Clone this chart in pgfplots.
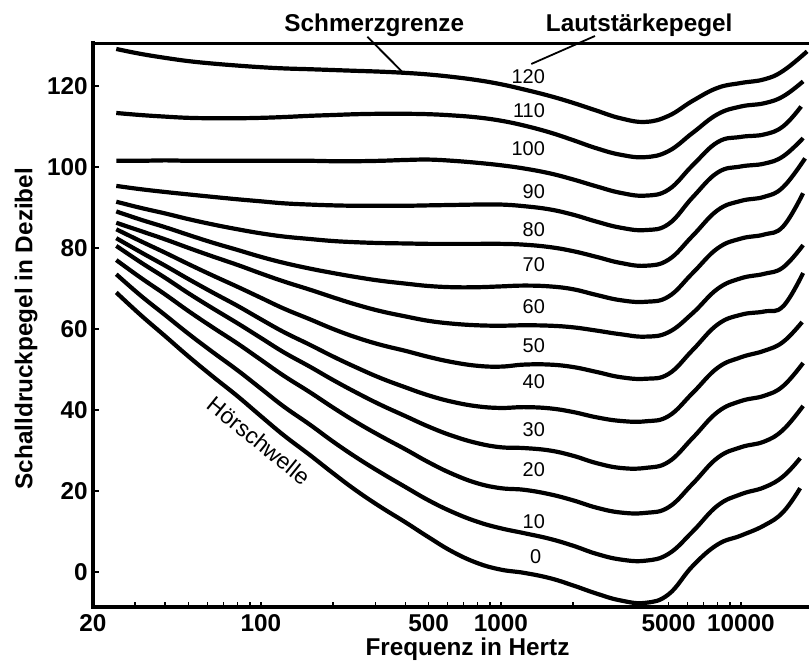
\documentclass[border=0pt]{standalone}
\usepackage{pgfplots}
\pgfplotsset{compat=1.18}
\usepackage{fontspec}
\setmainfont{Liberation Sans}

\pgfplotsset{
  contour/.style={black, line width=2.1bp, smooth, tension=0.7, no marks},
}
\tikzset{
  phon/.style={anchor=east, inner sep=0pt, font=\fontsize{10}{12}\selectfont},
}

\begin{document}
\begin{tikzpicture}
\begin{axis}[
  at={(0bp,0bp)}, anchor=south west,
  scale only axis,
  width=358bp, height=282bp,
  xmode=log,
  xmin=20, xmax=19230,
  ymin=-8.7, ymax=130.5,
  axis x line*=bottom,
  axis y line*=left,
  axis line style={-, line width=2bp, line cap=rect},
  every outer x axis line/.append style={-},
  every outer y axis line/.append style={-},
  tick align=inside,
  major tick length=2.8bp,
  minor tick length=2.8bp,
  every tick/.style={black, line width=0.8bp},
  xtick={20,100,500,1000,5000,10000},
  xticklabels={20,100,500,1000,5000,10000},
  minor xtick={30,40,50,60,70,80,90,200,300,400,600,700,800,900,2000,6000,7000,8000,9000},
  ytick={0,20,40,60,80,100,120},
  yticklabels={0,20,40,60,80,100,120},
  tick label style={font=\fontsize{12.2}{14}\selectfont\bfseries},
  yticklabel style={inner sep=2.5bp},
  xlabel={Frequenz in Hertz},
  ylabel={Schalldruckpegel in Dezibel},
  label style={font=\fontsize{12.2}{14}\selectfont\bfseries},
  xlabel style={at={(axis description cs:0.523,-0.0855)}, anchor=base},
  ylabel style={at={(axis description cs:-0.0845,0.494)}, anchor=base},
  clip=false,
]
% top frame line (the original shows no right spine)
\draw[line width=1.5bp, line cap=rect] (rel axis cs:0,1) -- (rel axis cs:1,1);

% equal-loudness contours, third-octave frequencies
% 120 phon (Schmerzgrenze)
\addplot[contour] coordinates {(25,129.1) (31.5,127.9) (40,126.9) (50,126.1) (63,125.5) (80,125.0) (100,124.6) (125,124.3) (160,124.1) (200,123.9) (250,123.7) (315,123.5) (400,123.2) (500,122.8) (630,122.2) (800,121.4) (1000,120.4) (1250,119.1) (1600,117.5) (2000,115.8) (2500,113.9) (3150,112.0) (4000,111.1) (5000,112.6) (6300,116.3) (8000,119.5) (10000,120.7) (12500,121.6) (15000,123.7) (18880,128.5)};
% 110
\addplot[contour] coordinates {(25,113.3) (31.5,112.8) (40,112.4) (50,112.1) (63,112.0) (80,112.0) (100,112.1) (125,112.3) (160,112.6) (200,112.8) (250,113.0) (315,113.1) (400,113.1) (500,113.0) (630,112.7) (800,112.2) (1000,111.4) (1250,110.2) (1600,108.5) (2000,106.6) (2500,104.6) (3150,103.0) (4000,102.4) (5000,103.9) (6300,108.4) (8000,113.0) (10000,114.9) (12500,115.7) (15000,117.4) (18170,121.1)};
% 100
\addplot[contour] coordinates {(25,101.5) (31.5,101.5) (40,101.6) (50,101.5) (63,101.5) (80,101.5) (100,101.5) (125,101.5) (160,101.5) (200,101.4) (250,101.4) (315,101.5) (400,101.7) (500,101.8) (630,101.5) (800,101.0) (1000,100.4) (1250,99.6) (1600,98.4) (2000,96.9) (2500,95.2) (3150,93.6) (4000,92.9) (5000,94.4) (6300,100.4) (8000,106.1) (10000,107.4) (12500,108.0) (15000,110.0) (17830,114.9)};
% 90
\addplot[contour] coordinates {(25,95.3) (31.5,94.5) (40,93.8) (50,93.2) (63,92.6) (80,92.0) (100,91.5) (125,91.0) (160,90.7) (200,90.5) (250,90.4) (315,90.4) (400,90.4) (500,90.5) (630,90.6) (800,90.7) (1000,90.7) (1250,90.3) (1600,89.5) (2000,88.2) (2500,86.5) (3150,85.0) (4000,84.4) (5000,85.9) (6300,92.5) (8000,98.6) (10000,100.1) (12500,100.8) (15000,102.6) (18170,107.1)};
% 80
\addplot[contour] coordinates {(25,91.4) (31.5,89.9) (40,88.5) (50,87.1) (63,85.8) (80,84.6) (100,83.6) (125,82.8) (160,82.2) (200,81.7) (250,81.4) (315,81.2) (400,81.1) (500,81.0) (630,81.0) (800,81.0) (1000,81.0) (1250,80.8) (1600,80.2) (2000,79.2) (2500,77.8) (3150,76.3) (4000,75.6) (5000,77.1) (6300,83.0) (8000,89.3) (10000,91.6) (12500,92.6) (15000,95.0) (18520,102.1)};
% 70
\addplot[contour] coordinates {(25,89.0) (31.5,87.0) (40,85.1) (50,83.2) (63,81.3) (80,79.5) (100,77.8) (125,76.3) (160,74.9) (200,73.8) (250,72.8) (315,71.9) (400,71.2) (500,70.6) (630,70.3) (800,70.3) (1000,70.5) (1250,70.7) (1600,70.5) (2000,69.8) (2500,68.4) (3150,67.1) (4000,66.7) (5000,68.0) (6300,73.8) (8000,79.9) (10000,82.3) (12500,83.3) (15000,85.3) (18170,93.5)};
% 60
\addplot[contour] coordinates {(25,86.2) (31.5,84.2) (40,82.1) (50,80.0) (63,77.9) (80,75.8) (100,73.7) (125,71.7) (160,69.7) (200,67.8) (250,66.0) (315,64.4) (400,63.1) (500,62.0) (630,61.3) (800,60.9) (1000,60.8) (1250,60.9) (1600,60.8) (2000,60.4) (2500,59.6) (3150,58.7) (4000,58.1) (5000,59.2) (6300,63.9) (8000,69.9) (10000,72.5) (12500,73.6) (15000,75.2) (18170,80.7)};
% 50
\addplot[contour] coordinates {(25,84.6) (31.5,81.7) (40,78.8) (50,76.0) (63,73.2) (80,70.4) (100,67.7) (125,65.0) (160,62.4) (200,60.0) (250,57.9) (315,56.1) (400,54.6) (500,53.1) (630,51.8) (800,50.9) (1000,50.7) (1250,51.2) (1600,51.2) (2000,50.6) (2500,49.4) (3150,48.1) (4000,47.7) (5000,48.9) (6300,54.8) (8000,61.1) (10000,63.5) (12500,64.3) (15000,65.6) (18170,73.8)};
% 40
\addplot[contour] coordinates {(25,82.4) (31.5,79.0) (40,75.6) (50,72.3) (63,69.0) (80,65.7) (100,62.4) (125,59.2) (160,56.1) (200,53.2) (250,50.5) (315,47.9) (400,45.6) (500,43.6) (630,42.0) (800,40.9) (1000,40.5) (1250,40.7) (1600,40.4) (2000,39.5) (2500,38.2) (3150,37.3) (4000,37.2) (5000,38.5) (6300,44.2) (8000,50.4) (10000,53.0) (12500,54.6) (15000,56.8) (18000,61.7)};
% 30
\addplot[contour] coordinates {(25,80.5) (31.5,76.5) (40,72.6) (50,68.8) (63,65.1) (80,61.4) (100,57.8) (125,54.2) (160,50.7) (200,47.4) (250,44.3) (315,41.3) (400,38.5) (500,35.9) (630,33.6) (800,31.8) (1000,30.8) (1250,30.6) (1600,30.0) (2000,28.7) (2500,26.9) (3150,25.7) (4000,25.7) (5000,27.2) (6300,33.1) (8000,39.5) (10000,42.2) (12500,43.5) (15000,45.9) (18170,51.6)};
% 20
\addplot[contour] coordinates {(25,77.0) (31.5,72.7) (40,68.5) (50,64.4) (63,60.4) (80,56.4) (100,52.4) (125,48.4) (160,44.4) (200,40.6) (250,37.0) (315,33.6) (400,30.3) (500,27.1) (630,24.2) (800,21.9) (1000,20.7) (1250,20.3) (1600,19.2) (2000,17.7) (2500,15.9) (3150,14.7) (4000,14.6) (5000,16.0) (6300,21.8) (8000,28.2) (10000,30.8) (12500,32.2) (15000,35.1) (18170,41.0)};
% 10
\addplot[contour] coordinates {(25,73.5) (31.5,68.3) (40,63.4) (50,58.8) (63,54.3) (80,49.8) (100,45.3) (125,40.8) (160,36.4) (200,32.2) (250,28.3) (315,24.6) (400,21.0) (500,17.7) (630,14.8) (800,12.4) (1000,10.8) (1250,9.6) (1600,8.2) (2000,6.5) (2500,4.5) (3150,3.1) (4000,2.8) (5000,4.5) (6300,10.0) (8000,16.4) (10000,19.2) (12500,20.9) (15000,23.6) (17660,28.1)};
% 0 phon (Hoerschwelle)
\addplot[contour] coordinates {(25,69.0) (31.5,63.5) (40,58.2) (50,53.2) (63,48.3) (80,43.4) (100,38.5) (125,33.7) (160,28.9) (200,24.4) (250,20.1) (315,16.1) (400,12.3) (500,8.6) (630,5.0) (800,2.2) (1000,0.6) (1250,-0.2) (1600,-1.5) (2000,-3.3) (2500,-5.3) (3150,-7.0) (4000,-7.6) (5000,-5.5) (6300,1.5) (8000,6.8) (10000,9.0) (12500,11.5) (15000,14.8) (17660,20.7)};

% phon labels
\node[phon] at (axis cs:1532,122.3) {120};
\node[phon] at (axis cs:1532,113.9) {110};
\node[phon] at (axis cs:1532,104.6) {100};
\node[phon] at (axis cs:1532,93.9) {90};
\node[phon] at (axis cs:1532,84.4) {80};
\node[phon] at (axis cs:1532,75.8) {70};
\node[phon] at (axis cs:1532,65.5) {60};
\node[phon] at (axis cs:1532,56.0) {50};
\node[phon] at (axis cs:1532,47.0) {40};
\node[phon] at (axis cs:1532,35.1) {30};
\node[phon] at (axis cs:1532,25.2) {20};
\node[phon] at (axis cs:1532,12.4) {10};
\node[phon] at (axis cs:1480,3.8) {0};

% annotations
\node[anchor=base, font=\fontsize{12.2}{14}\selectfont\bfseries] at (axis cs:297,133.5) {Schmerzgrenze};
\node[anchor=base, font=\fontsize{12.2}{14}\selectfont\bfseries] at (axis cs:3772,133.5) {Lautstärkepegel};
\draw[line width=0.9bp] (axis cs:278,132.1) -- (axis cs:388,123.5);
\draw[line width=0.9bp] (axis cs:2467,132.3) -- (axis cs:1340,125.4);
\node[rotate=-39, font=\fontsize{11.5}{13}\selectfont] at (axis cs:98.5,32.4) {Hörschwelle};
\end{axis}
\pgfresetboundingbox
\path[use as bounding box] (-46.5bp,-27.35bp) rectangle (358bp,303.65bp);
\end{tikzpicture}
\end{document}
